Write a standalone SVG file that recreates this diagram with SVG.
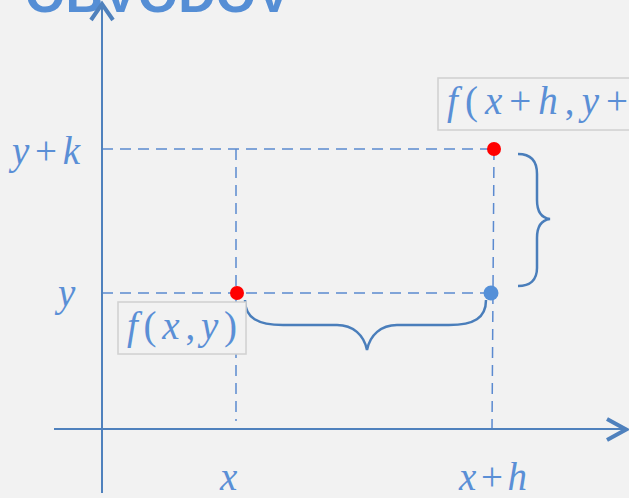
<svg xmlns="http://www.w3.org/2000/svg" width="629" height="498" viewBox="0 0 629 498">
<style>
.ax{stroke:#4f81bd;stroke-width:2;fill:none}
.ah{stroke:#4f81bd;stroke-width:4;fill:none;stroke-linejoin:miter}
.dash{stroke:#5b8ad0;stroke-width:1.5;stroke-dasharray:11 7;fill:none}
.brace{stroke:#4a7ebb;stroke-width:2.5;fill:none}
.m{font-family:"Liberation Serif",serif;font-style:italic;font-size:39px;fill:#5a8fd6}
.u{font-style:normal}
.box{fill:#f2f2f2;stroke:#d0d0d0;stroke-width:1.5}
.title{font-family:"Liberation Sans",Arial,sans-serif;font-weight:bold;font-size:52px;fill:#558ed5}
</style>
<rect width="629" height="498" fill="#f2f2f2"/>
<text class="title" x="25" y="12">OBVODOV</text>
<g id="connectors">
<line class="dash" x1="102" y1="149" x2="494" y2="149"/>
<line class="dash" x1="102" y1="293" x2="492" y2="293"/>
<line class="dash" x1="236" y1="149" x2="236" y2="421"/>
<line class="dash" x1="494" y1="149" x2="492" y2="429"/>
<path class="brace" d="M245,300 C245,318 258,325 283,325 L337,325 C353,325 364,335 367,350 C370,335 381,325 397,325 L449,325 C474,325 486,318 486,300"/>
<path class="brace" d="M518,154 C530,154 537,160 537,174 L537,200 C537,212 542,218 550,219 C542,220 537,226 537,238 L537,268 C537,280 530,286 518,286"/>
</g>
<g id="axes">
<line class="ax" x1="102" y1="6" x2="102" y2="493"/>
<polyline class="ah" points="91,20 102,4 113,20"/>
<line class="ax" x1="54" y1="429" x2="624" y2="429"/>
<polyline class="ah" points="607,419 626,429.5 607,440"/>
</g>
<g id="label-yk"><text class="m" x="12" y="164" textLength="68" lengthAdjust="spacing">y<tspan class="u">+</tspan>k</text></g>
<g id="label-y"><text class="m" x="58" y="306">y</text></g>
<g id="label-x"><text class="m" x="220" y="490">x</text></g>
<g id="label-xh"><text class="m" x="459" y="490" textLength="68" lengthAdjust="spacing">x<tspan class="u">+</tspan>h</text></g>
<g id="node-fxy">
<rect class="box" x="118" y="302" width="128" height="52"/>
<text class="m" x="127" y="339" textLength="110" lengthAdjust="spacing">f<tspan class="u">(</tspan>x<tspan class="u">,</tspan>y<tspan class="u">)</tspan></text>
</g>
<g id="node-fxhyk">
<rect class="box" x="438" y="78" width="200" height="52"/>
<text class="m" x="447" y="114" textLength="181" lengthAdjust="spacing">f<tspan class="u">(</tspan>x<tspan class="u">+</tspan>h<tspan class="u">,</tspan>y<tspan class="u">+</tspan></text>
</g>
<g id="point-xy"><circle cx="237" cy="293" r="7" fill="#ff0000"/></g>
<g id="point-xhyk"><circle cx="494" cy="149" r="7" fill="#ff0000"/></g>
<g id="point-xhy"><circle cx="491" cy="293" r="7.5" fill="#5590d8"/></g>
</svg>
